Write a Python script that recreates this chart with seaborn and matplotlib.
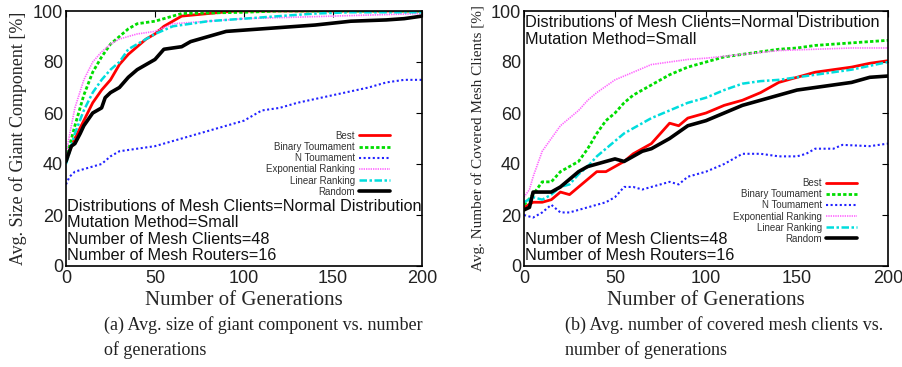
import matplotlib
matplotlib.use("Agg")
import matplotlib.pyplot as plt
import seaborn as sns
import numpy as np

sns.set_theme(style="white")
plt.rcParams['font.family'] = ['Liberation Sans', 'DejaVu Sans']

series_names = ["Best", "Binary Toumament", "N Toumament", "Exponential Ranking", "Linear Ranking", "Random"]

# ---- Left panel: Avg. size of giant component ----
gc_best_x = [0, 5, 10, 15, 20, 25, 30, 35, 40, 45, 50, 55, 60, 65, 80, 95, 200]
gc_best_y = [42, 50, 57, 64, 69, 73, 79, 83, 86, 89, 91, 94, 96, 98, 99, 100, 100]
gc_bin_x = [0, 5, 10, 15, 20, 25, 30, 35, 40, 50, 60, 65, 100, 120, 200]
gc_bin_y = [42, 55, 67, 76, 82, 87, 90, 93, 95, 96, 98, 99, 99.5, 100, 100]
gc_nt_x = [0, 2, 5, 10, 15, 20, 25, 30, 40, 50, 55, 60, 70, 80, 90, 100, 110, 120, 130, 140, 150, 160, 170, 180, 190, 200]
gc_nt_y = [32, 35, 37, 38, 39, 40, 43, 45, 46, 47, 48, 49, 51, 53, 55, 57, 61, 62, 64, 65.5, 67, 68.5, 70, 72, 73, 73]
gc_exp_x = [0, 3, 5, 10, 15, 20, 25, 30, 40, 50, 60, 80, 100, 150, 200]
gc_exp_y = [44, 55, 62, 73, 80, 84, 87, 89, 91, 92, 95, 96, 97, 98, 99]
gc_lin_x = [0, 5, 10, 15, 20, 25, 30, 35, 40, 50, 60, 70, 80, 100, 140, 160, 200]
gc_lin_y = [40, 52, 61, 68, 73, 77, 80, 85, 87, 91, 94, 95, 96, 97, 99, 99.5, 99.5]
gc_rnd_x = [0, 3, 5, 8, 10, 13, 15, 20, 22, 25, 30, 35, 40, 45, 50, 55, 65, 70, 80, 90, 100, 120, 140, 160, 180, 190, 200]
gc_rnd_y = [41, 47, 48, 52, 55, 58, 60, 62, 66, 68, 70, 74, 77, 79, 81, 85, 86, 88, 90, 92, 92.5, 93.5, 94.5, 96, 96.5, 97, 98]

# ---- Right panel: Avg. number of covered mesh clients ----
cc_best_x = [0, 5, 10, 15, 20, 25, 30, 35, 40, 45, 50, 55, 60, 65, 70, 75, 80, 85, 90, 100, 110, 120, 130, 140, 150, 160, 170, 180, 190, 200]
cc_best_y = [23, 25, 25, 26, 29, 28, 31, 34, 37, 37, 39, 41, 44, 46, 48, 52, 56, 55, 58, 60, 63, 65, 68, 72, 74, 76, 77, 78, 79.5, 80.5]
cc_bin_x = [0, 5, 10, 15, 20, 25, 30, 35, 40, 45, 50, 55, 60, 65, 70, 75, 80, 90, 100, 110, 120, 130, 140, 150, 160, 170, 180, 190, 200]
cc_bin_y = [24, 28, 33, 33, 37, 39, 41, 46, 52, 57, 60, 64, 67, 69, 71, 73, 75, 78, 80, 82, 83, 84, 85, 85.5, 86.5, 87, 87.5, 88, 88.5]
cc_nt_x = [0, 5, 10, 15, 20, 25, 30, 35, 40, 45, 50, 55, 60, 65, 70, 80, 85, 90, 100, 110, 115, 120, 130, 140, 150, 155, 160, 170, 175, 190, 200]
cc_nt_y = [20, 19, 21, 24, 21, 21, 22, 23, 24, 25, 27, 31, 31, 30, 31, 33, 32, 35, 37, 40, 42, 44, 44, 43, 43, 44, 46, 46, 47.5, 47, 48]
cc_exp_x = [0, 3, 5, 10, 15, 20, 25, 30, 35, 40, 50, 60, 70, 80, 90, 100, 120, 140, 160, 180, 200]
cc_exp_y = [27, 30, 35, 45, 50, 55, 58, 61, 65, 68, 73, 76, 79, 80, 81, 81.5, 83, 84.5, 85, 85.5, 85.5]
cc_lin_x = [0, 5, 10, 15, 20, 25, 30, 35, 40, 45, 50, 55, 60, 70, 80, 90, 100, 110, 120, 130, 140, 150, 160, 170, 180, 190, 200]
cc_lin_y = [25, 27, 26, 28, 31, 32, 36, 39, 43, 46, 49, 52, 54, 58, 61, 64, 66, 69, 71.5, 72.5, 73, 74, 75, 76, 77, 78.5, 80]
cc_rnd_x = [0, 3, 5, 10, 15, 20, 25, 30, 35, 40, 45, 50, 55, 60, 65, 70, 80, 90, 100, 110, 120, 130, 140, 150, 160, 170, 180, 190, 200]
cc_rnd_y = [22, 23, 29, 29, 29, 31, 34, 37, 39, 40, 41, 42, 41, 43, 45, 46, 50, 55, 57, 60, 63, 65, 67, 69, 70, 71, 72, 74, 74.5]

x_ticks = [0, 50, 100, 150, 200]
y_ticks = [0, 20, 40, 60, 80, 100]

styles = [
    dict(color="#ff0000", lw=2.0, ls="-"),
    dict(color="#00dd00", lw=2.0, ls=(0, (1.2, 0.8))),
    dict(color="#2222ff", lw=1.5, ls=(0, (1, 1.2))),
    dict(color="#ff66ff", lw=1.2, ls=(0, (0.8, 0.6))),
    dict(color="#00dddd", lw=1.8, ls=(0, (3, 1, 1, 1))),
    dict(color="#000000", lw=2.6, ls="-"),
]

fig = plt.figure(figsize=(9.02, 3.67), dpi=100)
axL = fig.add_axes([66/902, 1-266/367, 356/902, 255/367])
axR = fig.add_axes([524/902, 1-266/367, 364/902, 255/367])

left_data = [(gc_best_x, gc_best_y), (gc_bin_x, gc_bin_y), (gc_nt_x, gc_nt_y),
             (gc_exp_x, gc_exp_y), (gc_lin_x, gc_lin_y), (gc_rnd_x, gc_rnd_y)]
right_data = [(cc_best_x, cc_best_y), (cc_bin_x, cc_bin_y), (cc_nt_x, cc_nt_y),
              (cc_exp_x, cc_exp_y), (cc_lin_x, cc_lin_y), (cc_rnd_x, cc_rnd_y)]

for ax, data in [(axL, left_data), (axR, right_data)]:
    for (xs, ys), name, st in zip(data, series_names, styles):
        sns.lineplot(x=xs, y=ys, ax=ax, color=st["color"], linewidth=st["lw"],
                     linestyle=st["ls"], label=name, estimator=None, sort=False)
    ax.set_xlim(0, 200)
    ax.set_ylim(0, 100)
    ax.set_xticks(x_ticks)
    ax.set_yticks(y_ticks)
    ax.tick_params(direction="in", length=4, width=0.8, top=True, right=True,
                   labelsize=13, pad=2, colors="black", labelcolor="#222222")
    ax.tick_params(axis="x", pad=3)
    for sp in ax.spines.values():
        sp.set_color("black")
        sp.set_linewidth(1.2)
    ax.set_xlabel("Number of Generations", family="Liberation Serif", fontsize=15, labelpad=3)
    leg = ax.legend(markerfirst=False, frameon=False, fontsize=7, handlelength=3.2,
                    labelspacing=0.12, handletextpad=0.4, borderpad=0, borderaxespad=0)
    for t in leg.get_texts():
        t.set_color("#333333")

axL.legend_.set_bbox_to_anchor((0.91, 0.53))
axL.legend_.set_loc("upper right")
axR.legend_.set_bbox_to_anchor((0.915, 0.345))
axR.legend_.set_loc("upper right")

axL.set_ylabel("Avg. Size of Giant Component [%]", family="Liberation Serif", fontsize=13, labelpad=4)
axR.set_ylabel("Avg. Number of Covered Mesh Clients [%]", family="Liberation Serif", fontsize=11, labelpad=4)

ann = dict(fontsize=11.7, color="#111111", va="bottom", ha="left")
axL.text(0.003, 0.205, "Distributions of Mesh Clients=Normal Distribution", transform=axL.transAxes, **ann)
axL.text(0.003, 0.14, "Mutation Method=Small", transform=axL.transAxes, **ann)
axL.text(0.003, 0.075, "Number of Mesh Clients=48", transform=axL.transAxes, **ann)
axL.text(0.003, 0.01, "Number of Mesh Routers=16", transform=axL.transAxes, **ann)

axR.text(0.003, 0.925, "Distributions of Mesh Clients=Normal Distribution", transform=axR.transAxes, **ann)
axR.text(0.003, 0.86, "Mutation Method=Small", transform=axR.transAxes, **ann)
axR.text(0.003, 0.075, "Number of Mesh Clients=48", transform=axR.transAxes, **ann)
axR.text(0.003, 0.01, "Number of Mesh Routers=16", transform=axR.transAxes, **ann)

cap = dict(family="Liberation Serif", fontsize=13, color="#222222", ha="left", va="center")
fig.text(104/902, 1-325/367, "(a) Avg. size of giant component vs. number", **cap)
fig.text(104/902, 1-350/367, "of generations", **cap)
fig.text(565/902, 1-325/367, "(b) Avg. number of covered mesh clients vs.", **cap)
fig.text(565/902, 1-350/367, "number of generations", **cap)

fig.savefig("out.png", dpi=100)
